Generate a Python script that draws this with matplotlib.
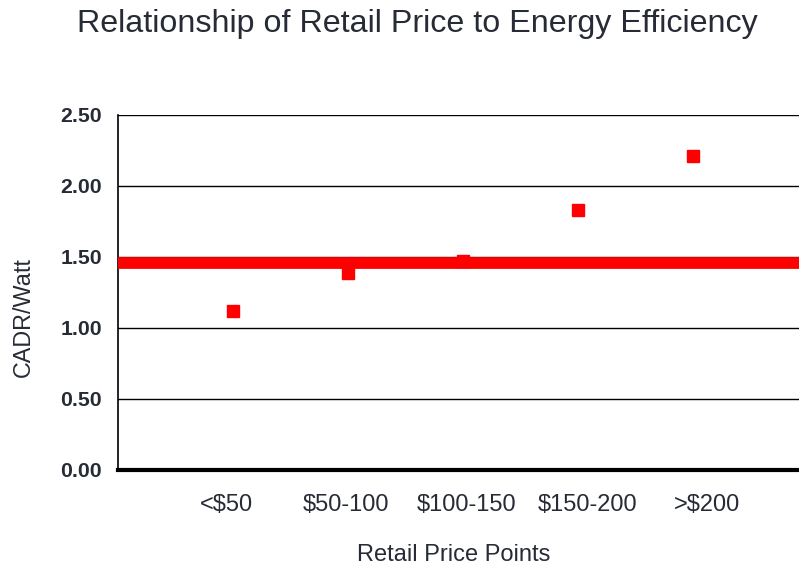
import matplotlib.pyplot as plt

# data
categories = ['<$50', '$50-100', '$100-150', '$150-200', '>$200']
cadr_per_watt = [1.12, 1.39, 1.47, 1.83, 2.21]
average_line = 1.46
y_ticks = [0.0, 0.5, 1.0, 1.5, 2.0, 2.5]

plt.rcParams['font.family'] = ['Liberation Sans', 'DejaVu Sans']

fig = plt.figure(figsize=(7.99, 5.67), dpi=100)
ax = fig.add_axes([0.1477, 0.1711, 0.8523, 0.6261])

x = list(range(1, len(categories) + 1))
ax.plot(x, cadr_per_watt, linestyle='none', marker='s', markersize=8.5,
        color='#ff0000', zorder=3)
ax.axhline(average_line, color='#ff0000', linewidth=8.5, zorder=4)

ax.set_ylim(0, 2.5)
ax.set_xlim(0, 5.92)
ax.set_yticks(y_ticks)
ax.set_yticklabels(['%.2f' % v for v in y_ticks], fontsize=15.3,
                   fontweight='bold', color='#262b35')
# category labels sit on a slightly wider spacing than the markers
label_pos = [0.94 + 1.046 * (i - 1) for i in x]
ax.set_xticks(label_pos)
ax.set_xticklabels(categories, fontsize=17, color='#262b35')
ax.tick_params(axis='y', length=0, pad=11.5)
ax.tick_params(axis='x', length=0, pad=17)

for v in y_ticks[1:]:
    ax.axhline(v, color='black', linewidth=1, zorder=1)

for s in ['top', 'right']:
    ax.spines[s].set_visible(False)
ax.spines['left'].set_linewidth(1.2)
ax.spines['bottom'].set_linewidth(3)
ax.spines['bottom'].set_zorder(5)

ax.set_ylabel('CADR/Watt', fontsize=16.8, color='#262b35')
ax.yaxis.set_label_coords(-0.122, 0.43)
ax.set_xlabel('Retail Price Points', fontsize=17, color='#262b35')
ax.xaxis.set_label_coords(0.493, -0.209)
fig.text(0.5225, 0.957, 'Relationship of Retail Price to Energy Efficiency',
         ha='center', va='center', fontsize=23.2, color='#262b35')

fig.savefig('out.png', dpi=100)
